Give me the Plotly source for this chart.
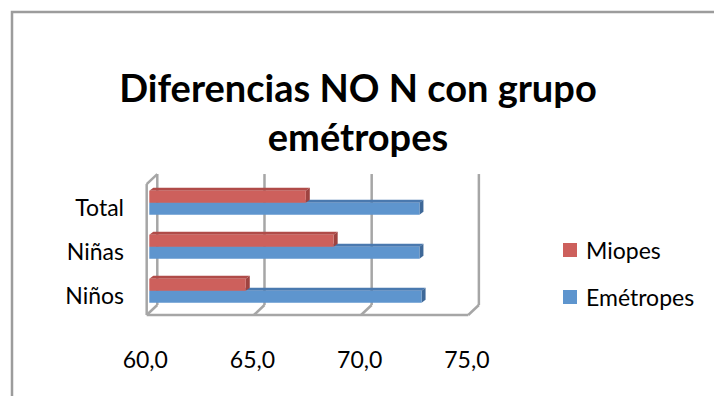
import plotly.graph_objects as go

# --- data ---------------------------------------------------------------
categories = ["Niños", "Niñas", "Total"]
series_names = ["Miopes", "Emétropes"]
miopes = [64.5, 68.6, 67.3]
emetropes = [72.7, 72.6, 72.6]
x_ticks = [60, 65, 70, 75]
x_tick_text = ["60,0", "65,0", "70,0", "75,0"]
base_value = 60

# --- styling / geometry -------------------------------------------------
W, H = 714, 396
L, R, T, B = 145, 233, 171, 78
PW, PH = W - L - R, H - T - B
FONT = "Lato"

colors_front = {"Miopes": "#CD605C", "Emétropes": "#5E95CE"}
colors_top = {"Miopes": "#B04B48", "Emétropes": "#4A79AF"}
colors_side = {"Miopes": "#9E4340", "Emétropes": "#3E6898"}
wall_color = "#A6A6A6"

x_range = [59.8, 75.472]
y_range = [-0.620, 2.721]
px_x = PW / (x_range[1] - x_range[0])
px_y = PH / (y_range[1] - y_range[0])

floor_y = -0.552          # front edge of the floor
top_y = 2.652             # top of the back wall
front_dx = -2.6 / px_x    # front plane offset from bar plane
depth_dx = 10.6 / px_x    # wall depth (x)
depth_dy = 10.0 / px_y    # wall depth (y)
bar_w = 0.272
bar_dx = 4.0 / px_x       # bar extrusion
bar_dy = 3.0 / px_y
label_shift = 0.115       # category labels sit slightly below bar groups

positions = list(range(len(categories)))


def paper_x(px):
    return (px - L) / PW


def paper_y(py):
    return (H - B - py) / PH


shapes = []
line_style = dict(color=wall_color, width=2.5)

# back wall gridlines + floor diagonals
for t in x_ticks:
    xf = t + front_dx
    xb = xf + depth_dx
    shapes.append(dict(type="line", xref="x", yref="y", layer="below",
                       x0=xb, x1=xb, y0=floor_y + depth_dy, y1=top_y, line=line_style))
    shapes.append(dict(type="line", xref="x", yref="y", layer="below",
                       x0=xf, x1=xb, y0=floor_y, y1=floor_y + depth_dy, line=line_style))
# front floor edge
shapes.append(dict(type="line", xref="x", yref="y", layer="below",
                   x0=x_ticks[0] + front_dx, x1=x_ticks[-1] + front_dx,
                   y0=floor_y, y1=floor_y, line=line_style))
# left wall front edge and its top
xl = x_ticks[0] + front_dx
shapes.append(dict(type="line", xref="x", yref="y", layer="below",
                   x0=xl, x1=xl, y0=floor_y, y1=top_y - depth_dy, line=line_style))
shapes.append(dict(type="line", xref="x", yref="y", layer="below",
                   x0=xl, x1=xl + depth_dx, y0=top_y - depth_dy, y1=top_y, line=line_style))


def bar_faces(name, values, offset):
    out = []
    for p, v in zip(positions, values):
        y0 = p + offset
        y1 = y0 + bar_w
        top = (f"M{base_value},{y1} L{v},{y1} L{v + bar_dx},{y1 + bar_dy} "
               f"L{base_value + bar_dx},{y1 + bar_dy} Z")
        side = (f"M{v},{y0} L{v},{y1} L{v + bar_dx},{y1 + bar_dy} "
                f"L{v + bar_dx},{y0 + bar_dy} Z")
        for path, col in ((top, colors_top[name]), (side, colors_side[name])):
            out.append(dict(type="path", xref="x", yref="y", layer="below",
                            path=path, fillcolor=col, line=dict(width=0)))
    return out


series = [("Emétropes", emetropes, -bar_w), ("Miopes", miopes, 0.0)]

fig = go.Figure()
for name, values, offset in series:
    shapes += bar_faces(name, values, offset)
    fig.add_trace(go.Bar(
        name=name, orientation="h",
        y=positions, x=[v - base_value for v in values], base=base_value,
        width=bar_w, offset=offset,
        marker=dict(color=colors_front[name], line=dict(width=0)),
        showlegend=False,
    ))

# outer chart border
shapes.append(dict(type="rect", xref="paper", yref="paper",
                   x0=paper_x(12), x1=paper_x(730), y0=paper_y(12), y1=paper_y(410),
                   line=dict(color="#9C9C9C", width=2.5), fillcolor="rgba(0,0,0,0)"))

# legend
annotations = []
legend_rows = [("Miopes", 250), ("Emétropes", 297)]
for name, py in legend_rows:
    shapes.append(dict(type="rect", xref="paper", yref="paper",
                       x0=paper_x(563), x1=paper_x(577), y0=paper_y(py + 7), y1=paper_y(py - 7),
                       fillcolor=colors_front[name], line=dict(width=0)))
    annotations.append(dict(text=name, xref="paper", yref="paper",
                            x=paper_x(584), y=paper_y(py), xanchor="left", yanchor="middle",
                            showarrow=False, font=dict(family=FONT, size=23, color="#000000")))

fig.update_layout(
    width=W, height=H,
    margin=dict(l=L, r=R, t=T, b=B),
    paper_bgcolor="white", plot_bgcolor="white",
    title=dict(text="<b>Diferencias NO N con grupo<br>emétropes</b>",
               x=358 / W, xanchor="center", xref="container",
               y=1 - 102 / H, yanchor="middle", yref="container",
               font=dict(family=FONT, size=38, color="#000000")),
    xaxis=dict(range=x_range, tickvals=x_ticks, ticktext=x_tick_text,
               showgrid=False, zeroline=False, showline=False, ticks="",
               ticklabelstandoff=26, ticklabelshift=-4,
               tickfont=dict(family=FONT, size=23, color="#000000")),
    yaxis=dict(range=y_range, tickvals=[p - label_shift for p in positions],
               ticktext=categories, showgrid=False, zeroline=False, showline=False,
               ticks="", ticklabelstandoff=20,
               tickfont=dict(family=FONT, size=23, color="#000000")),
    shapes=shapes,
    annotations=annotations,
    showlegend=False,
)

fig.write_html("out.html")
